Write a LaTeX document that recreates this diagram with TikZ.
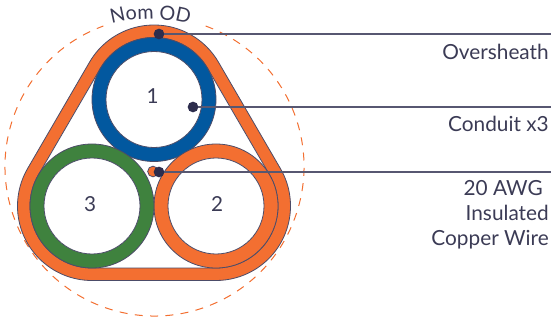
\documentclass[tikz,border=0pt]{standalone}
\usepackage{fontspec}
\setmainfont{Lato}
\usetikzlibrary{calc,decorations.text}
\definecolor{sheath}{HTML}{F36F31}
\definecolor{condblue}{HTML}{02589F}
\definecolor{condgreen}{HTML}{3F823E}
\definecolor{inkdark}{HTML}{2D2D4D}
\definecolor{inktext}{HTML}{3B3B55}
\tikzset{
  x=0.75pt,y=0.75pt,
  edge/.style={draw=inkdark!85!white,line width=0.6pt},
  ring/.style={circle,edge,minimum size=93pt,inner sep=0pt,outer sep=0pt},
  bore/.style={circle,edge,fill=white,minimum size=72pt,inner sep=0pt,outer sep=0pt},
  digit/.style={text=inktext,font=\fontsize{15.5pt}{18pt}\selectfont,inner sep=0pt},
  pin/.style={circle,fill=inkdark,minimum size=8pt,inner sep=0pt,outer sep=0pt},
  leader/.style={draw=inkdark!80!white,line width=0.9pt},
  tag/.style={text=inktext,font=\fontsize{15.6pt}{18.75pt}\selectfont,align=right,anchor=east,inner sep=0pt},
  odcircle/.style={draw=sheath,line width=0.75pt,dash pattern=on 6pt off 5.5pt}
}
\newcommand{\hullpath}[1]{
  ($(c3)+(150:#1)$) -- ($(c1)+(150:#1)$)
  arc[start angle=150,end angle=30,radius=#1]
  -- ($(c2)+(30:#1)$)
  arc[start angle=30,end angle=-90,radius=#1]
  -- ($(c3)+(-90:#1)$)
  arc[start angle=-90,end angle=-210,radius=#1]
  -- cycle}
\begin{document}
\begin{tikzpicture}
\useasboundingbox (0,0) rectangle (551,322);
\coordinate (c1) at (154,222.5);
\coordinate (c2) at (216,116);
\coordinate (c3) at (92,116);
% nominal outer diameter
\draw[odcircle] (154.5,155.5) ++(70:149.5) arc[start angle=70,end angle=-250,radius=149.5];
\path[postaction={decorate,decoration={text along path,text align=center,
  text={|\color{inktext}\fontsize{14.8pt}{17pt}\selectfont|Nom OD}}}]
  (150.5,154) ++(125:149) arc[start angle=125,end angle=55,radius=149];
% oversheath
\draw[edge,fill=sheath] \hullpath{74.5};
\draw[edge,fill=white] \hullpath{62};
% conduits
\node[ring,fill=condblue] (r1) at (c1) {};
\node[ring,fill=sheath] (r2) at (c2) {};
\node[ring,fill=condgreen] (r3) at (c3) {};
\node[bore] (b1) at (c1) {};
\node[bore] (b2) at (c2) {};
\node[bore] (b3) at (c3) {};
\node[digit] (d1) at (152.5,226) {1};
\node[digit] (d2) at (217,117.5) {2};
\node[digit] (d3) at (90,117.5) {3};
% copper wire
\node[circle,edge,fill=sheath,minimum size=8pt,inner sep=0pt] (wire) at (153,150.5) {};
% pins and leaders
\node[pin] (p1) at (159,288) {};
\node[pin] (p2) at (193,215) {};
\node[pin] (p3) at (159,150) {};
\coordinate (e1) at (551,288);
\coordinate (e2) at (551,215);
\coordinate (e3) at (551,150);
\draw[leader] (p1) -- (e1);
\draw[leader] (p2) -- (e2);
\draw[leader] (p3) -- (e3);
% labels
\node[tag] (t1) at (549,270) {Oversheath};
\node[tag] (t2) at (549,198.5) {Conduit x3};
\node[tag] (t3) at (549,107.5) {20 AWG\kern4.5pt\\Insulated\\Copper Wire};
\end{tikzpicture}
\end{document}
